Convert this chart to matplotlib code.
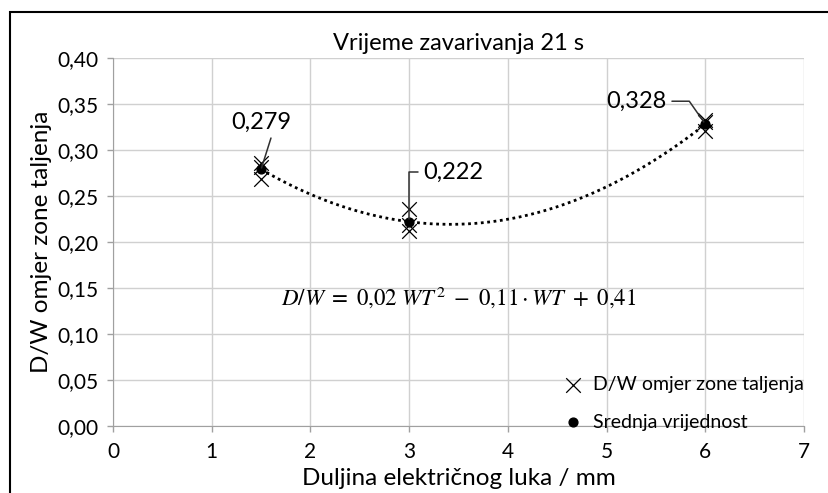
import numpy as np
import matplotlib.pyplot as plt
from matplotlib.patches import Rectangle

plt.rcParams['font.family'] = ['Lato', 'DejaVu Sans']
plt.rcParams['mathtext.fontset'] = 'stix'

# mjerenja
duljina = [1.5, 1.5, 1.5, 3, 3, 3, 6, 6, 6]
omjer = [0.286, 0.282, 0.269, 0.236, 0.218, 0.212, 0.333, 0.330, 0.321]
duljina_sr = [1.5, 3, 6]
omjer_sr = [0.279, 0.222, 0.328]
oznake = ['0,279', '0,222', '0,328']

fig = plt.figure(figsize=(8.29, 4.93), dpi=100)
ax = fig.add_axes([0.1363, 0.1359, 0.8337, 0.7465])

# okvir slike
fig.patches.append(Rectangle((10 / 829, -0.1), 1.2, 1 - 12 / 493 + 0.1,
                             transform=fig.transFigure, fill=False,
                             edgecolor='black', linewidth=1.5))

# trend (polinom 2. reda)
k = np.polyfit(duljina_sr, omjer_sr, 2)
xfit = np.linspace(1.5, 6, 200)
ax.plot(xfit, np.polyval(k, xfit), color='black', linestyle=(0, (1, 1.3)),
        linewidth=2, zorder=3)

ax.scatter(duljina, omjer, marker='x', s=110, color='black', linewidths=0.9,
           zorder=4, label='D/W omjer zone taljenja')
ax.scatter(duljina_sr, omjer_sr, marker='o', s=40, color='black', zorder=5,
           label='Srednja vrijednost')

# oznake vrijednosti
crta = dict(arrowstyle='-', color='#303030', lw=1.1)
ax.text(1.5, 0.330, oznake[0], fontsize=17, ha='center', va='center')
ax.annotate('', (duljina_sr[0], omjer_sr[0]), xytext=(1.6, 0.313),
            zorder=6, arrowprops=dict(crta, shrinkA=0, shrinkB=1))
ax.annotate(oznake[1], (duljina_sr[1], omjer_sr[1]), xytext=(3.45, 0.276),
            fontsize=17, ha='center', va='center', zorder=6,
            arrowprops=dict(crta, relpos=(0, 0.5), shrinkA=2, shrinkB=2,
                            connectionstyle='angle,angleA=0,angleB=90,rad=0'))
ax.annotate(oznake[2], (duljina_sr[2], omjer_sr[2]), xytext=(5.3, 0.353),
            fontsize=17, ha='center', va='center', zorder=6,
            arrowprops=dict(crta, relpos=(1, 0.5), shrinkA=2, shrinkB=2,
                            connectionstyle='angle,angleA=0,angleB=-55,rad=0'))

ax.text(3.5, 0.1405,
        r'$D/W\ =\ 0{,}02\ WT^2\ -\ 0{,}11\cdot WT\ +\ 0{,}41$',
        fontsize=16.5, ha='center', va='center')

ax.set_xlim(0, 7)
ax.set_ylim(0, 0.40)
ax.set_xticks(range(0, 8))
ax.set_yticks(np.arange(0, 0.401, 0.05))
ax.set_yticklabels([f'{v:.2f}'.replace('.', ',') for v in np.arange(0, 0.401, 0.05)])
ax.tick_params(axis='both', labelsize=15, color='#a0a0a0', length=4.5,
               width=1, direction='out')
ax.tick_params(axis='x', pad=7)
ax.tick_params(axis='y', pad=6)
ax.grid(True, color='#d0d0d0', linewidth=1)
ax.set_axisbelow(True)
for s in ['top', 'right']:
    ax.spines[s].set_visible(False)
ax.spines['left'].set_color('#a0a0a0')
ax.spines['bottom'].set_color('#a0a0a0')

ax.set_title('Vrijeme zavarivanja 21 s', fontsize=17, pad=6)
ax.set_xlabel('Duljina električnog luka / mm', fontsize=17.5, labelpad=4)
ax.set_ylabel('D/W omjer zone taljenja', fontsize=17.5, labelpad=4)

ax.legend(loc='lower right', frameon=False, fontsize=14, handletextpad=0.05,
          labelspacing=1.05, bbox_to_anchor=(1.025, -0.06))

fig.savefig('out.png', dpi=100)
